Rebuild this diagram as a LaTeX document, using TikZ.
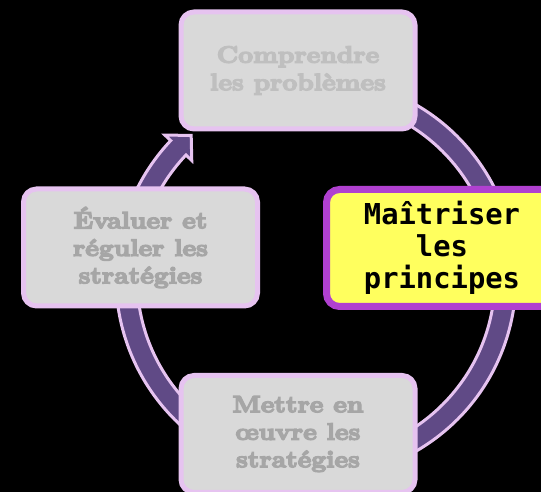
\documentclass[tikz,border=0pt]{standalone}
\usepackage{fontspec}
\newfontfamily\fatface{lmroman10-bold.otf}[FakeBold=6,FakeStretch=1.1]
\newfontfamily\monob{DejaVu Sans Mono}
\definecolor{lav}{HTML}{E6C3F0}
\definecolor{ringpurple}{HTML}{604A86}
\definecolor{boxgray}{HTML}{D9D9D9}
\definecolor{txtlight}{HTML}{BFBFBF}
\definecolor{txtdark}{HTML}{A6A6A6}
\definecolor{hlyellow}{HTML}{FFFF5E}
\definecolor{hlpurple}{HTML}{B040D0}
\begin{document}
\begin{tikzpicture}[x=1pt,y=1pt,
  stagebox/.style={draw=lav, line width=5pt, fill=boxgray, rounded corners=13pt,
    minimum width=234pt, minimum height=117pt, inner sep=0pt, align=center,
    font=\fatface\fontsize{23.5}{27.5}\selectfont},
  hlbox/.style={draw=hlpurple, line width=7pt, fill=hlyellow, rounded corners=13pt,
    minimum width=231pt, minimum height=117pt, inner sep=0pt, align=center,
    font=\monob\bfseries\fontsize{28.8}{32}\selectfont, text=black},
  ringstyle/.style={fill=ringpurple, draw=lav, line width=3pt, line join=miter}]
\fill[black] (0,0) rectangle (541,492);
\useasboundingbox (0,0) rectangle (541,492);
% circular arrow
\begin{scope}[shift={(316,214)}]
\coordinate (rc) at (0,0);
\path[ringstyle] (75:200) arc[start angle=75, end angle=-223.4, radius=200]
  -- (-223.4:208) -- (-228.8:189.5) -- (-223.4:171) -- (-223.4:179)
  arc[start angle=-223.4, end angle=75, radius=179] -- cycle;
\end{scope}
% boxes
\node[stagebox, text=txtlight] (top) at (298,421.5) {Comprendre\\les problèmes};
\node[stagebox, text=txtdark] (left) at (140.5,244.5) {Évaluer et\\réguler les\\stratégies};
\node[stagebox, text=txtdark] (bottom) at (298,58) {Mettre en\\œuvre les\\stratégies};
\node[hlbox] (right) at (442,244) {Maîtriser\\les\\principes};
\end{tikzpicture}
\end{document}
